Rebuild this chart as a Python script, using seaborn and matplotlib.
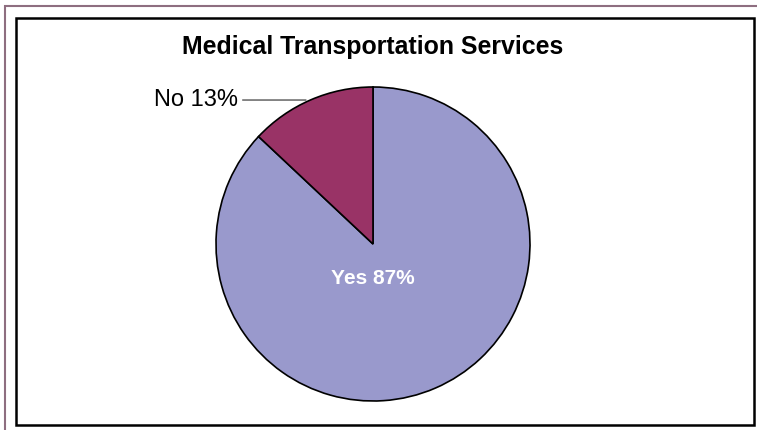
import matplotlib
matplotlib.use("Agg")
import matplotlib.pyplot as plt
from matplotlib.patches import Rectangle
import seaborn as sns

# data
labels = ["Yes", "No"]
shares = [87, 13]
slice_colors = ["#9999CC", "#993366"]
title = "Medical Transportation Services"

sns.set_theme(style="white")
plt.rcParams['font.family'] = ['Liberation Sans', 'DejaVu Sans']
plt.rcParams['text.color'] = 'black'

W, H = 757, 430
fig = plt.figure(figsize=(W / 100, H / 100), dpi=100, facecolor="white")

# pie centre / radius in pixels
cx, cy, r = 373, 244, 157
pad = 1.05
ax = fig.add_axes([(cx - r * pad) / W, (H - cy - r * pad) / H, 2 * r * pad / W, 2 * r * pad / H])
wedges, _ = ax.pie(shares, colors=slice_colors, startangle=90, counterclock=False,
                   wedgeprops=dict(edgecolor="black", linewidth=1.2))
ax.set_xlim(-pad, pad)
ax.set_ylim(-pad, pad)
ax.set_aspect("auto")
ax.axis("off")

# labels
ax.text(0, -0.22, f"{labels[0]} {shares[0]}%", color="white", fontsize=15,
        fontweight="bold", ha="center", va="center")
no_y = 0.917
ax.annotate(f"{labels[1]} {shares[1]}%", xy=(-0.427, no_y), xytext=(-0.86, no_y),
            fontsize=17, ha="right", va="center", color="black",
            arrowprops=dict(arrowstyle="-", color="#555555", lw=1.0,
                            shrinkA=1, shrinkB=0))

fig.text(cx / W, 1 - 47 / H, title, fontsize=17.9, fontweight="bold",
         ha="center", va="center", color="black")

# chart frames
fig.patches.append(Rectangle((5 / W, -0.1), 1.2, (H - 6) / H + 0.1,
                             transform=fig.transFigure, fill=False,
                             edgecolor="#8E6E80", linewidth=1.5))
fig.patches.append(Rectangle((16 / W, (H - 425) / H), (754 - 16) / W, (425 - 18) / H,
                             transform=fig.transFigure, fill=False,
                             edgecolor="black", linewidth=1.8))

fig.savefig("out.png", dpi=100, facecolor="white")
